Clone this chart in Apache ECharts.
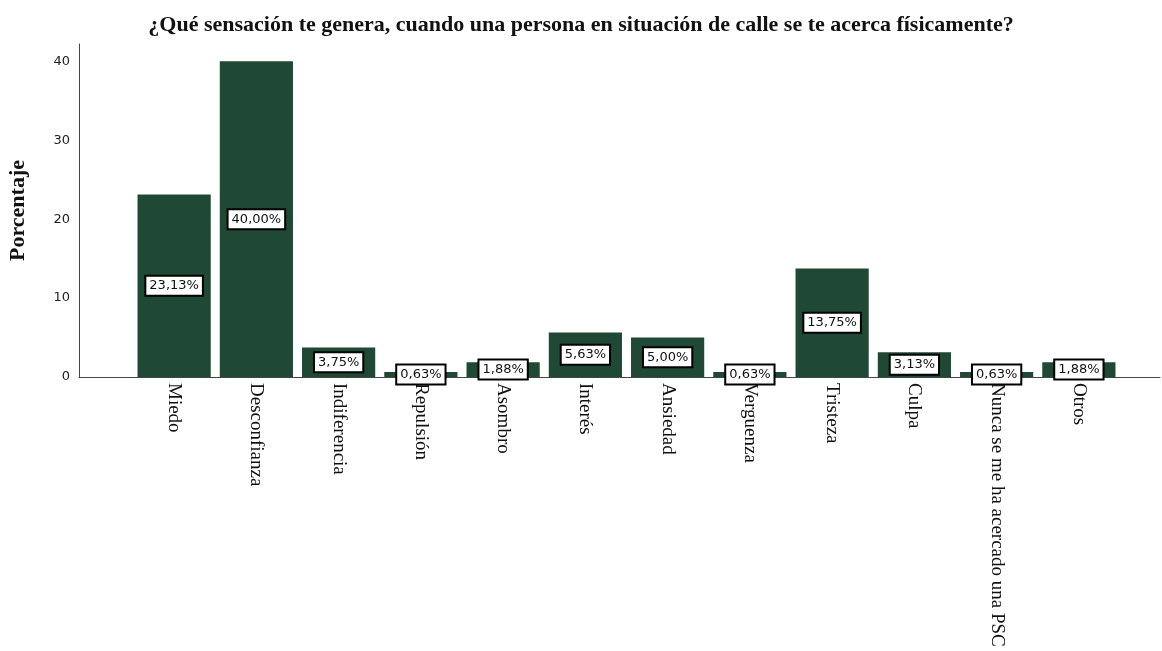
<!DOCTYPE html>
<html>
<head>
<meta charset="utf-8">
<script src="https://cdn.jsdelivr.net/npm/echarts@6/dist/echarts.min.js"></script>
<style>
  html, body { margin: 0; padding: 0; background: #fff; }
  #chart { width: 1162px; height: 651px; }
</style>
</head>
<body>
<div id="chart"></div>
<script>
// categorías y porcentajes
const categories = [
    'Miedo', 'Desconfianza', 'Indiferencia', 'Repulsión', 'Asombro', 'Interés',
    'Ansiedad', 'Verguenza', 'Tristeza', 'Culpa', 'Nunca se me ha acercado una PSC', 'Otros'
]
const percentages = [23.13, 40.00, 3.75, 0.63, 1.88, 5.63, 5.00, 0.63, 13.75, 3.13, 0.63, 1.88]
const yTicks = [0, 10, 20, 30, 40]

const Y_MAX = 42.2
const BAR_COLOR = '#1f4835'

const chart = echarts.init(document.getElementById('chart'))

const formatPct = (v) => v.toFixed(2).replace('.', ',') + '%'

chart.setOption({
    animation: false,
    title: {
        text: '¿Qué sensación te genera, cuando una persona en situación de calle se te acerca físicamente?',
        left: 'center',
        top: 9,
        textStyle: {
            fontFamily: 'Liberation Serif',
            fontWeight: 'bold',
            fontSize: 22,
            color: '#111'
        }
    },
    grid: [
        // barras
        { left: 133, right: 42, top: 44, bottom: 274, outerBoundsMode: 'none' },
        // ejes completos
        { left: 79, right: 2, top: 44, bottom: 274, outerBoundsMode: 'none' }
    ],
    xAxis: [
        {
            type: 'category',
            gridIndex: 0,
            data: categories,
            axisLine: { show: false },
            axisTick: { show: false },
            axisLabel: {
                rotate: -90,
                margin: 6,
                interval: 0,
                fontFamily: 'Liberation Serif',
                fontSize: 19,
                color: '#111'
            }
        },
        {
            type: 'value',
            gridIndex: 1,
            min: 0,
            max: 1,
            axisLine: { show: true, onZero: false, lineStyle: { color: '#444', width: 1 } },
            axisTick: { show: false },
            axisLabel: { show: false },
            splitLine: { show: false }
        }
    ],
    yAxis: [
        {
            type: 'value',
            gridIndex: 0,
            min: 0,
            max: Y_MAX,
            show: false
        },
        {
            type: 'value',
            gridIndex: 1,
            min: 0,
            max: Y_MAX,
            interval: 10,
            name: 'Porcentaje',
            nameLocation: 'middle',
            nameGap: 50,
            nameTextStyle: {
                fontFamily: 'Liberation Serif',
                fontWeight: 'bold',
                fontSize: 22,
                color: '#111'
            },
            axisLine: { show: true, lineStyle: { color: '#444', width: 1 } },
            axisTick: { show: false },
            splitLine: { show: false },
            axisLabel: {
                margin: 9,
                showMaxLabel: false,
                fontFamily: 'DejaVu Sans',
                fontSize: 13,
                color: '#222',
                formatter: (v) => yTicks.includes(v) ? String(v) : ''
            }
        }
    ],
    series: [
        {
            type: 'bar',
            xAxisIndex: 0,
            yAxisIndex: 0,
            data: percentages,
            barCategoryGap: '11%',
            itemStyle: { color: BAR_COLOR },
            label: {
                show: true,
                position: 'inside',
                formatter: (p) => formatPct(p.value),
                fontFamily: 'DejaVu Sans',
                fontSize: 13,
                color: '#111',
                backgroundColor: '#fff',
                borderColor: '#000',
                borderWidth: 2,
                padding: [3, 3, 2, 3]
            }
        }
    ]
})
</script>
</body>
</html>
